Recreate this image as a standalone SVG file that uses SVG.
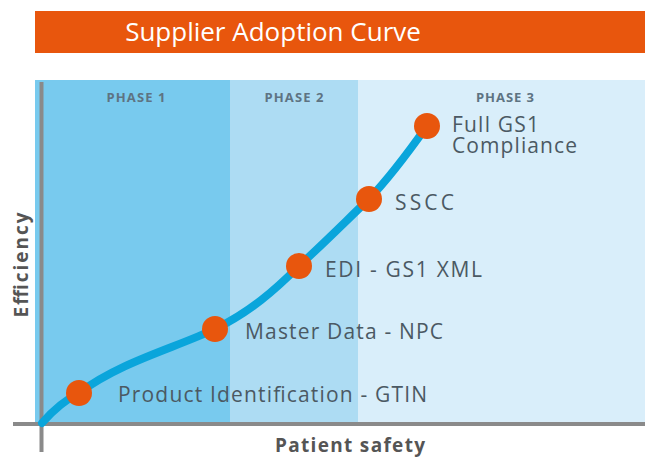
<svg xmlns="http://www.w3.org/2000/svg" width="645" height="457" viewBox="0 0 645 457">
<style>
.lbl{font-family:"Open Sans","Liberation Sans",sans-serif;font-size:21px;fill:#4b5963}
.ph{font-family:"Open Sans","Liberation Sans",sans-serif;font-size:13px;font-weight:bold;fill:#5e7382;text-anchor:middle}
.ax{font-family:"Open Sans","Liberation Sans",sans-serif;font-size:19px;font-weight:bold;fill:#555;text-anchor:middle}
.dot{fill:#E8560D}
</style>
<rect width="645" height="457" fill="#fff"/>
<g id="title">
<rect x="35" y="11" width="610" height="42" fill="#E8560D"/>
<text x="273" y="41" text-anchor="middle" font-family="Open Sans, Liberation Sans, sans-serif" font-size="26" fill="#fff">Supplier Adoption Curve</text>
</g>
<g id="phases">
<rect x="35" y="80" width="195" height="343" fill="#78CAEE"/>
<rect x="230" y="80" width="128" height="343" fill="#ADDCF3"/>
<rect x="358" y="80" width="287" height="343" fill="#D9EEFA"/>
<text class="ph" x="136" y="102" textLength="59" lengthAdjust="spacing">PHASE 1</text>
<text class="ph" x="294" y="102" textLength="59" lengthAdjust="spacing">PHASE 2</text>
<text class="ph" x="505" y="102" textLength="58" lengthAdjust="spacing">PHASE 3</text>
</g>
<g id="axes">
<line x1="41.5" y1="82" x2="41.5" y2="452" stroke="#8a8a8a" stroke-width="4"/>
<line x1="13" y1="424" x2="645" y2="424" stroke="#8a8a8a" stroke-width="4"/>
<text class="ax" transform="translate(28,265) rotate(-90)" textLength="105" lengthAdjust="spacing">Efficiency</text>
<text class="ax" x="350" y="452" textLength="150" lengthAdjust="spacing">Patient safety</text>
</g>
<g id="connectors">
<path d="M42,423 C55,408 65,400 79,393 C120,362 175,348 215,329 C250,312 275,290 299,266 C325,242 345,222 369,199 C392,175 410,150 427,126" fill="none" stroke="#0AA5DB" stroke-width="8" stroke-linecap="round"/>
</g>
<g id="n1"><circle class="dot" cx="79" cy="393" r="13"/><text class="lbl" x="118" y="402" textLength="309" lengthAdjust="spacing">Product Identification - GTIN</text></g>
<g id="n2"><circle class="dot" cx="215" cy="329" r="13"/><text class="lbl" x="245" y="339" textLength="198" lengthAdjust="spacing">Master Data - NPC</text></g>
<g id="n3"><circle class="dot" cx="299" cy="266" r="13"/><text class="lbl" x="325" y="277" textLength="157" lengthAdjust="spacing">EDI - GS1 XML</text></g>
<g id="n4"><circle class="dot" cx="369" cy="199" r="13"/><text class="lbl" x="395" y="210" textLength="59" lengthAdjust="spacing">SSCC</text></g>
<g id="n5"><circle class="dot" cx="427" cy="126" r="13"/><text class="lbl" x="452" y="132" textLength="87" lengthAdjust="spacing">Full GS1</text><text class="lbl" x="452" y="153" textLength="125" lengthAdjust="spacing">Compliance</text></g>
</svg>
